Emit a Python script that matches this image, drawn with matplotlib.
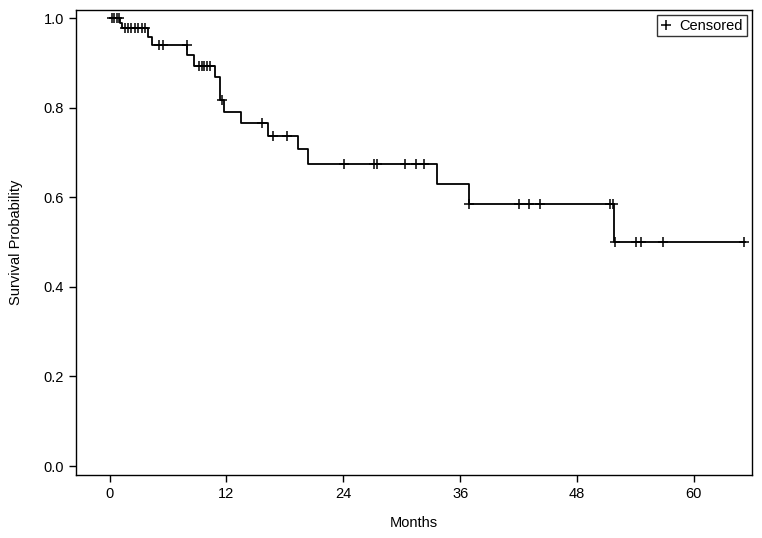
import numpy as np
import matplotlib.pyplot as plt
from matplotlib.lines import Line2D

plt.rcParams['font.family'] = ['Liberation Sans', 'DejaVu Sans']

# Kaplan-Meier step curve
step_times = [0, 1.1, 1.3, 3.9, 4.4, 8.0, 8.65, 10.8, 11.3, 11.8, 13.5,
              16.3, 19.35, 20.4, 33.6, 36.9, 51.8]
step_surv = [1.0, 0.988, 0.977, 0.958, 0.940, 0.917, 0.893, 0.868, 0.817,
             0.791, 0.765, 0.737, 0.708, 0.674, 0.629, 0.586, 0.500]
last_time = 65.2

# censored observations (months)
censor_times = [0.3, 0.5, 0.75, 0.95, 1.6, 1.9, 2.2, 2.6, 2.9, 3.35, 3.6,
                5.1, 5.5, 7.9, 9.2, 9.5, 9.7, 10.0, 10.3, 11.55, 15.6,
                16.8, 18.2, 24.1, 27.1, 27.5, 30.3, 31.5, 32.3, 36.95,
                42.0, 43.1, 44.2, 51.4, 51.7, 51.85, 54.1, 54.6, 56.8, 65.1]

xticks = [0, 12, 24, 36, 48, 60]
yticks = [0.0, 0.2, 0.4, 0.6, 0.8, 1.0]

fig = plt.figure(figsize=(7.62, 5.38), dpi=100)
ax = fig.add_axes([0.0997, 0.1171, 0.887, 0.8643])

xs = list(step_times) + [last_time]
ys = list(step_surv) + [step_surv[-1]]
ax.step(xs, ys, where='post', color='black', lw=1.3)

# survival value at each censor time
idx = np.searchsorted(step_times, censor_times, side='right') - 1
cens_y = np.array(step_surv)[idx]
ax.plot(censor_times, cens_y, linestyle='none', marker='+', color='black',
        markersize=6.5, markeredgewidth=1.1)

ax.set_xlim(-3.45, 65.95)
ax.set_ylim(-0.02, 1.018)
ax.set_xticks(xticks)
ax.set_xticklabels([str(t) for t in xticks])
ax.set_yticks(yticks)
ax.set_yticklabels(['%.1f' % t for t in yticks])
ax.tick_params(direction='out', length=5, width=1, labelsize=10.5, colors='black')
for s in ax.spines.values():
    s.set_linewidth(1.0)

ax.set_xlabel('Months', fontsize=10.5, labelpad=11)
ax.set_ylabel('Survival Probability', fontsize=10.5, labelpad=15)

handle = Line2D([], [], linestyle='none', marker='+', color='black',
                markersize=6.5, markeredgewidth=1.1)
leg = ax.legend([handle], ['Censored'], loc='upper right', fontsize=10.5,
                frameon=True, fancybox=False, edgecolor='black',
                handlelength=0.8, handletextpad=0.5, borderpad=0.25,
                borderaxespad=0.35)
leg.get_frame().set_linewidth(1.0)

fig.savefig('out.png', dpi=100)
